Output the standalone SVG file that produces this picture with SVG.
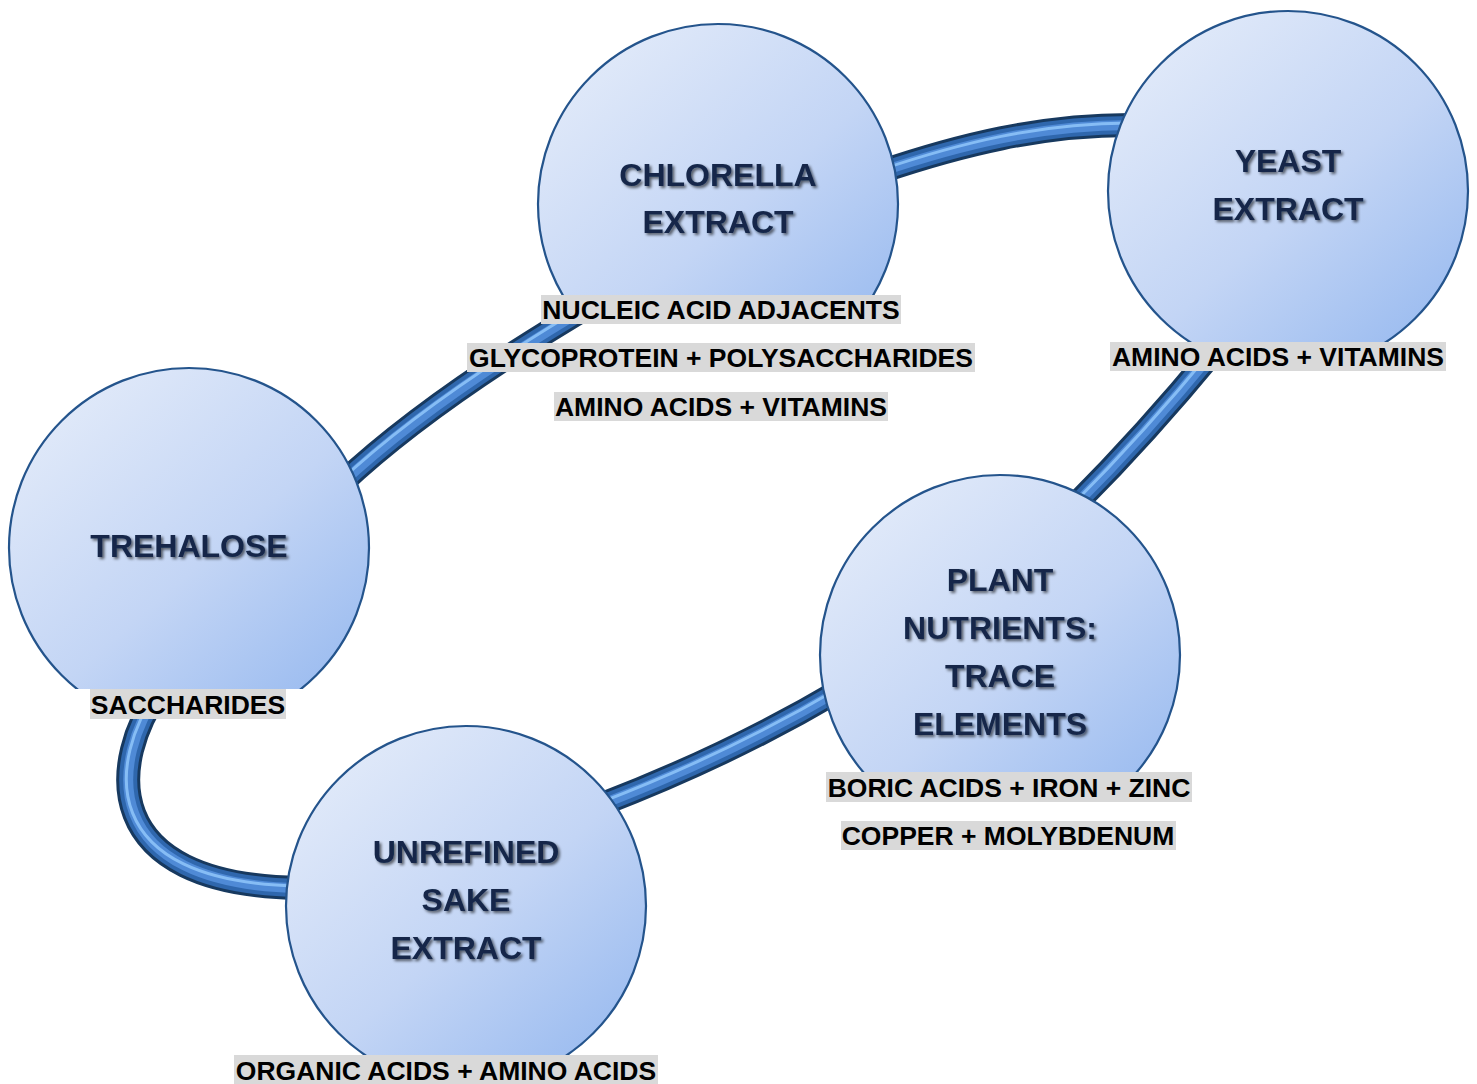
<svg xmlns="http://www.w3.org/2000/svg" width="1477" height="1084" viewBox="0 0 1477 1084">
<defs>
<linearGradient id="cg" x1="0.15" y1="0.1" x2="0.85" y2="0.9">
<stop offset="0" stop-color="#e0e9f9"/>
<stop offset="0.55" stop-color="#c3d5f5"/>
<stop offset="1" stop-color="#9dbdf0"/>
</linearGradient>
<filter id="ts" x="-10%" y="-30%" width="120%" height="160%">
<feGaussianBlur in="SourceAlpha" stdDeviation="1.6"/>
<feOffset dx="1.5" dy="1.5" result="b"/>
<feComponentTransfer><feFuncA type="linear" slope="0.6"/></feComponentTransfer>
<feMerge><feMergeNode/><feMergeNode in="SourceGraphic"/></feMerge>
</filter>
<clipPath id="k1"><rect x="0" y="0" width="1477" height="296"/></clipPath>
<clipPath id="k2"><rect x="0" y="0" width="1477" height="342"/></clipPath>
<clipPath id="k3"><rect x="0" y="0" width="1477" height="689"/></clipPath>
<clipPath id="k4"><rect x="0" y="0" width="1477" height="772"/></clipPath>
<clipPath id="k5"><rect x="0" y="0" width="1477" height="1055"/></clipPath>
</defs>
<style>
.c{fill:url(#cg);stroke:#24548c;stroke-width:2.2}
.t{font-family:"Liberation Sans",Arial,sans-serif;font-weight:bold;font-size:32px;fill:#14284a;text-anchor:middle;filter:url(#ts)}
.lb{fill:#d9d9d9}
.l{font-family:"Liberation Sans",Arial,sans-serif;font-weight:bold;font-size:26.5px;fill:#000;text-anchor:middle}
.p1{fill:none;stroke:#17395f;stroke-width:24}
.p2{fill:none;stroke:#2f67ad;stroke-width:18}
.p3{fill:none;stroke:#4f8ad6;stroke-width:10}
.p4{fill:none;stroke:#86bdf5;stroke-width:3}
</style>
<g id="connectors">
<g id="e1"><path class="p1" d="M880 172 C960 145 1040 125 1130 125"/><path class="p2" d="M880 172 C960 145 1040 125 1130 125"/><path class="p3" d="M880 172 C960 145 1040 125 1130 125"/><path class="p4" d="M880 170 C960 143 1040 123 1130 123"/></g>
<g id="e2"><path class="p1" d="M340 485 Q430 400 600 300"/><path class="p2" d="M340 485 Q430 400 600 300"/><path class="p3" d="M340 485 Q430 400 600 300"/><path class="p4" d="M338 483 Q428 398 598 298"/></g>
<g id="e3"><path class="p1" d="M1215 350 Q1145 435 1075 505"/><path class="p2" d="M1215 350 Q1145 435 1075 505"/><path class="p3" d="M1215 350 Q1145 435 1075 505"/><path class="p4" d="M1213 349 Q1143 434 1073 504"/></g>
<g id="e4"><path class="p1" d="M840 690 Q730 755 600 805"/><path class="p2" d="M840 690 Q730 755 600 805"/><path class="p3" d="M840 690 Q730 755 600 805"/><path class="p4" d="M839 688 Q729 753 599 803"/></g>
<g id="e5"><path class="p1" d="M160 690 C110 760 95 885 300 888"/><path class="p2" d="M160 690 C110 760 95 885 300 888"/><path class="p3" d="M160 690 C110 760 95 885 300 888"/><path class="p4" d="M158 690 C108 760 93 883 300 886"/></g>
</g>
<g id="chlorella">
<circle class="c" cx="718" cy="204" r="180" clip-path="url(#k1)"/>
<text class="t" x="718" y="186">CHLORELLA</text>
<text class="t" x="718" y="233">EXTRACT</text>
</g>
<g id="yeast">
<circle class="c" cx="1288" cy="191" r="180" clip-path="url(#k2)"/>
<text class="t" x="1288" y="172">YEAST</text>
<text class="t" x="1288" y="220">EXTRACT</text>
</g>
<g id="trehalose">
<circle class="c" cx="189" cy="548" r="180" clip-path="url(#k3)"/>
<text class="t" x="189" y="557">TREHALOSE</text>
</g>
<g id="plant">
<circle class="c" cx="1000" cy="655" r="180" clip-path="url(#k4)"/>
<text class="t" x="1000" y="591">PLANT</text>
<text class="t" x="1000" y="639">NUTRIENTS:</text>
<text class="t" x="1000" y="687">TRACE</text>
<text class="t" x="1000" y="735">ELEMENTS</text>
</g>
<g id="sake">
<circle class="c" cx="466" cy="906" r="180" clip-path="url(#k5)"/>
<text class="t" x="466" y="863">UNREFINED</text>
<text class="t" x="466" y="911">SAKE</text>
<text class="t" x="466" y="959">EXTRACT</text>
</g>
<g id="labels">
<rect class="lb" x="541" y="295" width="360" height="29"/><text class="l" x="721" y="318.5">NUCLEIC ACID ADJACENTS</text>
<rect class="lb" x="467" y="343" width="508" height="29"/><text class="l" x="721" y="366.5">GLYCOPROTEIN + POLYSACCHARIDES</text>
<rect class="lb" x="554" y="392" width="334" height="29"/><text class="l" x="721" y="415.5">AMINO ACIDS + VITAMINS</text>
<rect class="lb" x="1110" y="342" width="336" height="29"/><text class="l" x="1278" y="365.5">AMINO ACIDS + VITAMINS</text>
<rect class="lb" x="90" y="689" width="196" height="30"/><text class="l" x="188" y="713.5">SACCHARIDES</text>
<rect class="lb" x="826" y="772" width="366" height="30"/><text class="l" x="1009" y="796.5">BORIC ACIDS + IRON + ZINC</text>
<rect class="lb" x="841" y="821" width="335" height="29"/><text class="l" x="1008" y="844.5">COPPER + MOLYBDENUM</text>
<rect class="lb" x="234" y="1055" width="424" height="29"/><text class="l" x="446" y="1079.5">ORGANIC ACIDS + AMINO ACIDS</text>
</g>
</svg>
